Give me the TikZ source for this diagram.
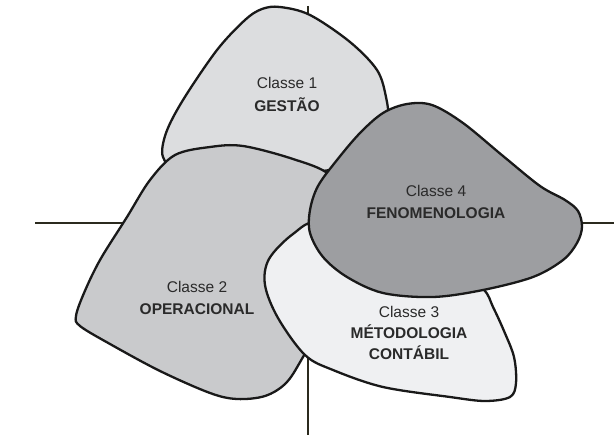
\documentclass[tikz,border=0pt]{standalone}
\usepackage{fontspec}
\setmainfont{Liberation Sans}
\definecolor{cone}{HTML}{DCDDDF}
\definecolor{ctwo}{HTML}{C9CACC}
\definecolor{cthree}{HTML}{EFF0F2}
\definecolor{cfour}{HTML}{9D9EA1}
\definecolor{txt}{HTML}{2A2A2A}
\definecolor{axis}{HTML}{2B2A1E}
\begin{document}
\begin{tikzpicture}[x=1pt,y=-1pt,
  blob/.style={draw=black!90, line width=2.3pt, line join=round},
  axisline/.style={draw=axis, line width=1.3pt},
  lbl/.style={font=\fontsize{15.5}{18}\selectfont, text=txt, inner sep=0pt, anchor=base},
  lblb/.style={lbl, font=\fontsize{15.5}{18}\selectfont\bfseries}]
\useasboundingbox (0,0) rectangle (615,435);
% axes
\coordinate (vt) at (308,6);
\coordinate (vb) at (308,435);
\coordinate (hl) at (35,223);
\coordinate (hr) at (614,223);
\draw[axisline] (vt) -- (vb);
\draw[axisline] (hl) -- (hr);
% Class 1
\path[blob, fill=cone] plot[smooth cycle, tension=0.55] coordinates {
 (262,9) (280,7) (310,15) (350,42) (377,70) (386,97) (388,120)
 (380,150) (330,170) (250,172) (180,168) (163,157) (166,133) (183,100) (217,50) (245,20)};
% Class 2
\path[blob, fill=ctwo] plot[smooth cycle, tension=0.55] coordinates {
 (175,155) (210,147) (243,146) (293,159) (330,175) (355,210) (340,290) (303,357)
 (286,383) (265,396) (237,399) (210,393) (160,371) (110,344) (80,326) (76,316)
 (84,293) (100,260) (127,217) (150,180)};
% Class 3
\path[blob, fill=cthree] plot[smooth cycle, tension=0.55] coordinates {
 (293,234) (320,222) (380,245) (450,268) (483,289) (493,307) (504,331) (514,357)
 (516,383) (510,397) (485,401) (450,397) (383,387) (333,370) (305,355) (278,318)
 (265,285) (269,259)};
% Class 4
\path[blob, fill=cfour] plot[smooth cycle, tension=0.55] coordinates {
 (310,210) (318,186) (337,160) (360,133) (383,113) (407,104) (432,105) (463,123)
 (503,156) (540,186) (565,200) (578,211) (582,227) (577,243) (563,260) (533,277)
 (483,290) (433,297) (383,293) (347,277) (323,257) (310,233)};
% labels
\node[lbl]  (c1a) at (287,89)  {Classe 1};
\node[lblb] (c1b) at (287,112) {GESTÃO};
\node[lbl]  (c2a) at (197,293) {Classe 2};
\node[lblb] (c2b) at (197,314) {OPERACIONAL};
\node[lbl]  (c4a) at (436,197) {Classe 4};
\node[lblb] (c4b) at (436,219) {FENOMENOLOGIA};
\node[lbl]  (c3a) at (409,317) {Classe 3};
\node[lblb] (c3b) at (409,338) {MÉTODOLOGIA};
\node[lblb] (c3c) at (409,359) {CONTÁBIL};
\end{tikzpicture}
\end{document}
